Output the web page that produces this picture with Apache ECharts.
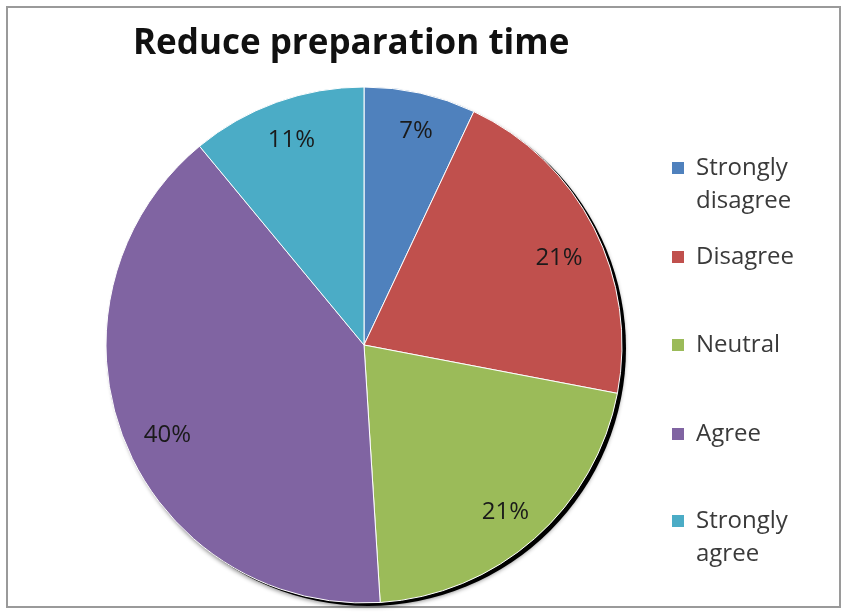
<!DOCTYPE html>
<html>
<head>
<meta charset="utf-8">
<script src="https://cdn.jsdelivr.net/npm/echarts@6/dist/echarts.min.js"></script>
<style>
  html, body { margin: 0; padding: 0; background: #fff; }
  #chart { width: 843px; height: 615px; }
</style>
</head>
<body>
<div id="chart"></div>
<script>
// Survey responses: "Reduce preparation time"
const categories = ['Strongly disagree', 'Disagree', 'Neutral', 'Agree', 'Strongly agree'];
const legendLabels = ['Strongly\ndisagree', 'Disagree', 'Neutral', 'Agree', 'Strongly\nagree'];
const percentages = [7, 21, 21, 40, 11];
const colors = ['#4F81BD', '#C0504D', '#9BBB59', '#8064A2', '#4BACC6'];
const titleText = 'Reduce preparation time';

const FONT = '"Open Sans", Lato, sans-serif';
const CX = 364, CY = 345, R = 258;

// small per-slice nudges for the percentage labels
const labelNudge = [[4, 1], [-1, 13], [-4, 2], [8, 9], [2, 2]];

const chart = echarts.init(document.getElementById('chart'), null, { renderer: 'canvas' });

const pieData = categories.map((name, i) => ({
  name: name,
  value: percentages[i],
  itemStyle: { color: colors[i] }
}));

// One legend block per category so that two-line entries keep the swatch on their first line
const LINE_H = 33;
const firstLineY = [168, 257, 345, 434, 521];
const squareIcon = 'path://M0,0h12v12h-12z';
const tallIcon = 'path://M0,0h12v12h-12z M0,45h0.01';
const legends = categories.map((name, i) => {
  const twoLine = legendLabels[i].indexOf('\n') >= 0;
  return {
    orient: 'vertical',
    left: 672,
    top: firstLineY[i] - LINE_H / 2,
    padding: 0,
    itemWidth: 12,
    itemHeight: twoLine ? 45 : 12,
    itemGap: 0,
    selectedMode: false,
    data: [{ name: name, icon: twoLine ? tallIcon : squareIcon }],
    formatter: () => legendLabels[i],
    textStyle: {
      fontFamily: FONT,
      fontSize: 24,
      color: '#3a3a3a',
      lineHeight: LINE_H,
      padding: [0, 0, 0, 7]
    },
    itemStyle: { borderWidth: 0 }
  };
});

const option = {
  animation: false,
  backgroundColor: '#ffffff',
  color: colors,
  title: {
    text: titleText,
    left: 128,
    top: 22,
    textStyle: {
      fontFamily: FONT,
      fontWeight: 'bold',
      fontSize: 35,
      color: '#111111'
    }
  },
  legend: legends,
  graphic: [{
    type: 'rect',
    silent: true,
    z: -10,
    shape: { x: 7, y: 7, width: 833, height: 600 },
    style: { fill: 'none', stroke: '#9a9a9a', lineWidth: 2 }
  }],
  series: [
    {
      // drop shadow beneath the pie
      type: 'pie',
      silent: true,
      center: [CX + 4, CY + 3],
      radius: [0, R],
      z: 1,
      label: { show: false },
      labelLine: { show: false },
      legendHoverLink: false,
      itemStyle: {
        color: '#000000',
        shadowColor: 'rgba(0,0,0,0.45)',
        shadowBlur: 4,
        shadowOffsetX: -1,
        shadowOffsetY: 1
      },
      data: [{ name: '_shadow', value: 1 }]
    },
    {
      type: 'pie',
      name: titleText,
      center: [CX, CY],
      radius: [0, R],
      startAngle: 90,
      clockwise: true,
      z: 2,
      label: { show: false },
      labelLine: { show: false },
      itemStyle: { borderColor: '#ffffff', borderWidth: 1 },
      emphasis: { disabled: true },
      data: pieData
    },
    {
      // percentage labels placed near the rim
      type: 'pie',
      silent: true,
      center: [CX, CY],
      radius: [176, R],
      startAngle: 90,
      clockwise: true,
      z: 3,
      legendHoverLink: false,
      itemStyle: { color: 'rgba(0,0,0,0)', borderWidth: 0 },
      label: {
        show: true,
        position: 'inside',
        formatter: '{c}%',
        fontFamily: FONT,
        fontSize: 24,
        color: '#1a1a1a'
      },
      labelLine: { show: false },
      emphasis: { disabled: true },
      data: pieData.map((d, i) => ({
        name: d.name,
        value: d.value,
        itemStyle: { color: 'rgba(0,0,0,0)' },
        label: { offset: labelNudge[i] }
      }))
    }
  ]
};

chart.setOption(option);
</script>
</body>
</html>
